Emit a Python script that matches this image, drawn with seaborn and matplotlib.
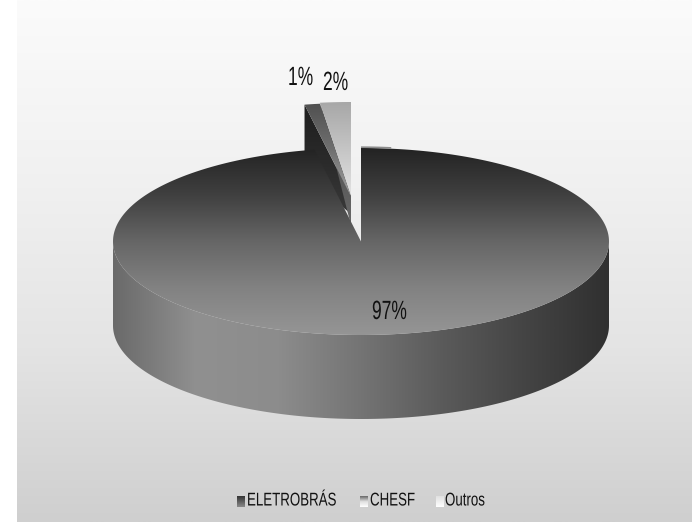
import numpy as np
import matplotlib
matplotlib.use("Agg")
import matplotlib.pyplot as plt
from matplotlib.patches import Polygon
from matplotlib.patheffects import AbstractPathEffect
from matplotlib.transforms import Affine2D
import seaborn as sns

categories = ["ELETROBRÁS", "CHESF", "Outros"]
shares = [97, 1, 2]
share_labels = ["97%", "1%", "2%"]

# Projected disc geometry, in pixels
CX, CY, RX, RY, DEPTH = 361, 241.5, 248, 93.5, 84
W, H = 692, 522
# Pulled-out slices: displacement of each slice apex
OFFSETS = [(0, 0), (-10, -45), (-10, -46)]


class Condensed(AbstractPathEffect):
    """Squeeze glyph outlines horizontally about the text origin."""

    def __init__(self, factor):
        super().__init__()
        self.factor = factor

    def draw_path(self, renderer, gc, tpath, affine, rgbFace=None):
        squeezed = Affine2D().scale(self.factor, 1) + affine
        renderer.draw_path(gc, tpath, squeezed, rgbFace)


sns.set_theme(style="white")
plt.rcParams["font.family"] = ["Liberation Sans", "DejaVu Sans"]

fig = plt.figure(figsize=(W / 100, H / 100), dpi=100)
ax = fig.add_axes([0, 0, 1, 1])
ax.set_xlim(0, W)
ax.set_ylim(H, 0)
ax.axis("off")


def narrow_text(x, y, s, size, squeeze):
    """Left-anchored condensed label."""
    return ax.text(x, y, s, fontsize=size, color="#111111", ha="left", va="center",
                   zorder=8, path_effects=[Condensed(squeeze)])


def ramp(colors, extent, clip=None, vertical=True, zorder=1, stops=256):
    """Paint a linear gray ramp over extent, optionally clipped to a patch."""
    cmap = sns.blend_palette(colors, as_cmap=True)
    t = np.linspace(0, 1, stops)
    grid = t[:, None] if vertical else t[None, :]
    x0, x1, y0, y1 = extent
    im = ax.imshow(grid, cmap=cmap, vmin=0, vmax=1, extent=(x0, x1, y1, y0),
                   aspect="auto", zorder=zorder, interpolation="bilinear")
    if clip is not None:
        patch = Polygon(clip, closed=True, transform=ax.transData, fc="none", ec="none")
        ax.add_patch(patch)
        im.set_clip_path(patch)
    return im


def rim(deg, apex=(CX, CY)):
    """Point on the disc rim; deg runs clockwise from twelve o'clock."""
    a = np.radians(deg)
    return np.column_stack([apex[0] + RX * np.sin(a), apex[1] - RY * np.cos(a)])


# Slice angles come from the shares
fractions = np.array(shares) / np.sum(shares)
edges = np.concatenate([[0], np.cumsum(fractions) * 360])

# Panel background
ramp(["#fbfbfb", "#f1f1f1", "#e4e4e4", "#cfcfcf"], (17, W, 0, H), zorder=0)

# CHESF slice: dark cut face, then its top
start, end = edges[1], edges[2]
apex_c = (CX + OFFSETS[1][0], CY + OFFSETS[1][1])
outer = rim(start, apex_c)[0]
face = [outer, apex_c, (apex_c[0] - 3, apex_c[1] + 15), (outer[0], outer[1] + 70)]
ramp(["#1c1c1c", "#2a2a2a", "#3c3c3c"], (290, 360, 95, 225), clip=face, zorder=2)
arc = rim(np.linspace(start, end, 12), apex_c)
ramp(["#4e4e4e", "#707070", "#a4a4a4"], (300, 360, 100, 200),
     clip=np.vstack([[apex_c], arc]), zorder=3)

# Outros slice: narrow cut face, then its top
start, end = edges[2], edges[3]
apex_o = (CX + OFFSETS[2][0], CY + OFFSETS[2][1])
outer = rim(start, apex_o)[0]
face = [outer, apex_o, (apex_o[0], apex_o[1] + 30)]
ramp(["#303030", "#555555", "#6a6a6a"], (315, 360, 100, 228), clip=face, zorder=2.5)
arc = rim(np.linspace(start, end, 12), apex_o)
ramp(["#a6a6a6", "#c4c4c4", "#e2e2e2"], (315, 360, 100, 195),
     clip=np.vstack([[apex_o], arc]), zorder=3)

# ELETROBRÁS: outer wall with a left-to-right sheen
front = rim(np.linspace(90, 270, 180))
wall = np.vstack([front, (front + [0, DEPTH])[::-1]])
ramp(["#6a6a6a", "#909090", "#8c8c8c", "#747474", "#5a5a5a", "#444444", "#303030"],
     (CX - RX, CX + RX, 0, H), clip=wall, vertical=False, zorder=4)

# ELETROBRÁS: top surface, lit towards the viewer
top_arc = rim(np.linspace(edges[0], edges[1], 360))
top = np.vstack([[(CX, CY)], top_arc])
ramp(["#232323", "#404040", "#666666", "#828282", "#959595"],
     (CX - RX, CX + RX, CY - RY, CY + RY), clip=top, zorder=5)

# Pale strip of the far wall beside the cut
back = rim(np.linspace(0, 7, 10)) - [0, 0.8]
ax.plot(back[:, 0], back[:, 1], color="#8c8c8c", lw=1.2, zorder=6, solid_capstyle="butt")

# Percentages
label_xy = [(372, 312), (288, 78), (323, 83)]
for text, (x, y) in zip(share_labels, label_xy):
    narrow_text(x, y, text, 19, 0.66)

# Legend row with ramped swatches
swatches = [["#333333", "#8a8a8a"], ["#666666", "#e0e0e0", "#ffffff"], ["#e0e0e0", "#ffffff"]]
swatch_x = [237, 360, 436]
text_x = [247, 370, 445]
for name, cols, sx, tx in zip(categories, swatches, swatch_x, text_x):
    ramp(cols, (sx, sx + 8, 496, 507), zorder=7)
    narrow_text(tx, 501, name, 13.3, 0.72)

ax.set_xlim(0, W)
ax.set_ylim(H, 0)
fig.savefig("out.png", dpi=100, facecolor="white")
